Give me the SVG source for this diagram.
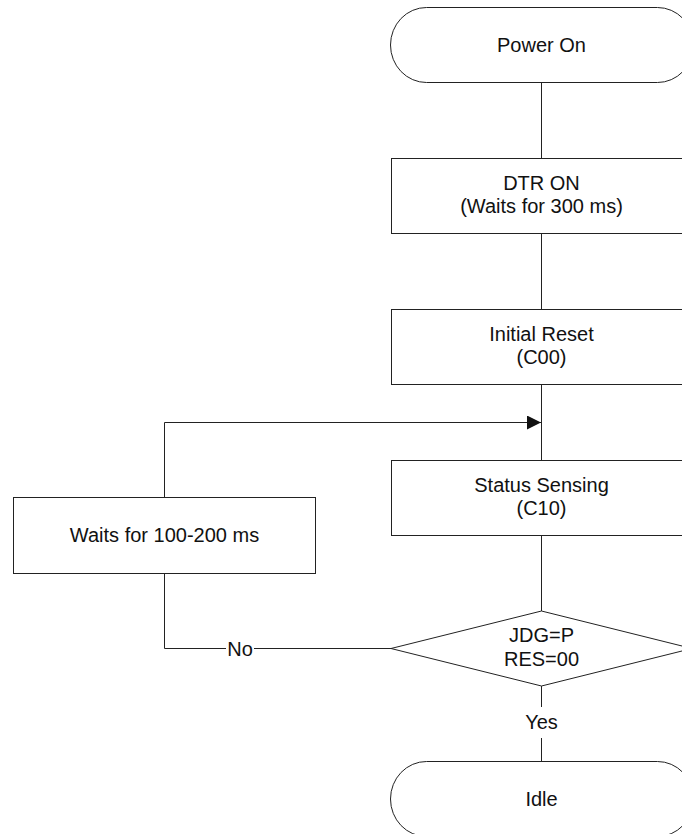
<svg xmlns="http://www.w3.org/2000/svg" width="682" height="834" viewBox="0 0 682 834">
  <style>
    .shape { fill: #ffffff; stroke: #222222; stroke-width: 1; }
    .line { fill: none; stroke: #222222; stroke-width: 1; }
    .label { font-family: "Liberation Sans", Arial, sans-serif; font-size: 20px; fill: #111111; text-anchor: middle; }
  </style>
  <defs>
    <marker id="arrow" viewBox="0 0 14 14" refX="14" refY="7" markerWidth="14" markerHeight="14" markerUnits="userSpaceOnUse" orient="auto">
      <path d="M0,0 L14,7 L0,14 Z" fill="#111111"/>
    </marker>
  </defs>
  <rect width="682" height="834" fill="#ffffff"/>

  <g id="connectors">
    <line class="line" x1="541.5" y1="82.5" x2="541.5" y2="158.5"/>
    <line class="line" x1="541.5" y1="233.5" x2="541.5" y2="309.5"/>
    <line class="line" x1="541.5" y1="384.5" x2="541.5" y2="460.5"/>
    <line class="line" x1="541.5" y1="535.5" x2="541.5" y2="611"/>
    <!-- Yes branch -->
    <line class="line" x1="541.5" y1="686" x2="541.5" y2="707"/>
    <line class="line" x1="541.5" y1="738" x2="541.5" y2="761.5"/>
    <!-- No branch back into the status loop -->
    <line class="line" x1="391" y1="648.5" x2="254" y2="648.5"/>
    <polyline class="line" points="226,648.5 164.5,648.5 164.5,573.5"/>
    <polyline class="line" points="164.5,497.5 164.5,422.5 541,422.5" marker-end="url(#arrow)"/>
    <text class="label" x="240" y="656">No</text>
    <text class="label" x="541.5" y="729">Yes</text>
  </g>

  <g id="power-on">
    <rect class="shape" x="390.5" y="7.5" width="303" height="75" rx="36" ry="37.5"/>
    <text class="label" x="541.5" y="51.5">Power On</text>
  </g>

  <g id="dtr-on">
    <rect class="shape" x="391.5" y="158.5" width="302" height="75"/>
    <text class="label" x="541.5" y="190">DTR ON</text>
    <text class="label" x="541.5" y="212.5">(Waits for 300 ms)</text>
  </g>

  <g id="initial-reset">
    <rect class="shape" x="391.5" y="309.5" width="302" height="75"/>
    <text class="label" x="541.5" y="341">Initial Reset</text>
    <text class="label" x="541.5" y="363.5">(C00)</text>
  </g>

  <g id="status-sensing">
    <rect class="shape" x="391.5" y="460.5" width="302" height="75"/>
    <text class="label" x="541.5" y="492">Status Sensing</text>
    <text class="label" x="541.5" y="514.5">(C10)</text>
  </g>

  <g id="wait">
    <rect class="shape" x="13.5" y="497.5" width="302" height="76"/>
    <text class="label" x="164.5" y="542">Waits for 100-200 ms</text>
  </g>

  <g id="decision">
    <polygon class="shape" points="541.5,611 692,648.5 541.5,686 391,648.5"/>
    <text class="label" x="541.5" y="642">JDG=P</text>
    <text class="label" x="541.5" y="665.5">RES=00</text>
  </g>

  <g id="idle">
    <rect class="shape" x="390.5" y="761.5" width="303" height="75" rx="36" ry="37.5"/>
    <text class="label" x="541.5" y="806">Idle</text>
  </g>
</svg>
